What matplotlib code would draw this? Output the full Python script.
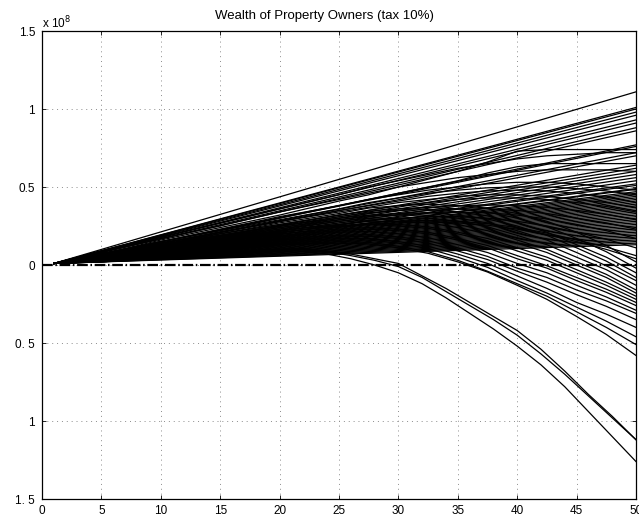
import matplotlib
matplotlib.use("Agg")
import matplotlib.pyplot as plt

plt.rcParams['font.family'] = ['Liberation Sans', 'DejaVu Sans']

# wealth in units of 1e8
# straight growers: start (year 1) and end (year 50) values
start_year = 1
end_year = 50
start_val = 0.01
straight_end = [1.11, 1.01, 1.00, 0.98, 0.96, 0.93, 0.91, 0.88, 0.86, 0.77,
                0.76, 0.72, 0.70, 0.64, 0.62, 0.60, 0.58, 0.56, 0.54, 0.52,
                0.51, 0.49, 0.485, 0.47, 0.46, 0.45, 0.44, 0.43, 0.42, 0.41,
                0.40, 0.39, 0.38, 0.37, 0.36, 0.35, 0.34, 0.33, 0.32, 0.31,
                0.30, 0.29, 0.28, 0.27, 0.26, 0.25, 0.24, 0.23, 0.22, 0.21,
                0.20, 0.19, 0.18, 0.17, 0.16, 0.15, 0.14, 0.13]

# owners whose wealth levels off or turns down, sampled at these years
knot_years = [1, 5, 10, 15, 20, 25, 27.5, 30, 32.5, 35, 37.5, 40, 42.5, 45, 47.5, 50]

plateau_paths = [
    [0.01, 0.07, 0.16, 0.24, 0.32, 0.41, 0.45, 0.50, 0.55, 0.60, 0.66, 0.73, 0.74, 0.74, 0.74, 0.74],
    [0.01, 0.07, 0.15, 0.22, 0.30, 0.38, 0.42, 0.46, 0.50, 0.54, 0.59, 0.63, 0.65, 0.65, 0.65, 0.65],
]

gentle_paths = [
    [0.01, 0.09, 0.18, 0.27, 0.36, 0.45, 0.50, 0.54, 0.58, 0.62, 0.65, 0.68, 0.70, 0.71, 0.72, 0.72],
    [0.01, 0.08, 0.17, 0.25, 0.34, 0.42, 0.46, 0.50, 0.53, 0.56, 0.58, 0.60, 0.61, 0.61, 0.61, 0.60],
    [0.01, 0.07, 0.15, 0.23, 0.31, 0.38, 0.42, 0.45, 0.48, 0.50, 0.52, 0.53, 0.53, 0.52, 0.50, 0.48],
    [0.01, 0.07, 0.15, 0.22, 0.29, 0.36, 0.40, 0.43, 0.46, 0.48, 0.495, 0.50, 0.50, 0.49, 0.475, 0.45],
    [0.01, 0.07, 0.14, 0.21, 0.28, 0.35, 0.38, 0.41, 0.44, 0.46, 0.475, 0.48, 0.475, 0.46, 0.435, 0.40],
    [0.01, 0.07, 0.14, 0.21, 0.28, 0.34, 0.37, 0.40, 0.42, 0.44, 0.45, 0.45, 0.44, 0.42, 0.40, 0.37],
    [0.01, 0.06, 0.13, 0.20, 0.26, 0.32, 0.35, 0.38, 0.40, 0.42, 0.43, 0.43, 0.42, 0.40, 0.375, 0.34],
    [0.01, 0.06, 0.13, 0.19, 0.25, 0.30, 0.33, 0.35, 0.37, 0.38, 0.385, 0.38, 0.37, 0.35, 0.325, 0.29],
    [0.01, 0.06, 0.12, 0.18, 0.24, 0.29, 0.31, 0.33, 0.35, 0.36, 0.36, 0.35, 0.33, 0.30, 0.27, 0.23],
    [0.01, 0.06, 0.12, 0.17, 0.23, 0.28, 0.30, 0.32, 0.335, 0.34, 0.335, 0.32, 0.295, 0.26, 0.22, 0.17],
    [0.01, 0.05, 0.11, 0.16, 0.22, 0.26, 0.285, 0.30, 0.31, 0.31, 0.30, 0.28, 0.25, 0.21, 0.165, 0.11],
    [0.01, 0.05, 0.11, 0.16, 0.21, 0.25, 0.27, 0.28, 0.285, 0.28, 0.265, 0.24, 0.205, 0.16, 0.115, 0.06],
    [0.01, 0.05, 0.10, 0.15, 0.20, 0.24, 0.26, 0.27, 0.275, 0.27, 0.255, 0.23, 0.195, 0.15, 0.10, 0.04],
]

falling_paths = [
    [0.01, 0.07, 0.14, 0.20, 0.27, 0.33, 0.365, 0.38, 0.39, 0.38, 0.365, 0.33, 0.28, 0.21, 0.125, 0.02],
    [0.01, 0.07, 0.13, 0.20, 0.26, 0.32, 0.345, 0.36, 0.37, 0.36, 0.34, 0.30, 0.245, 0.17, 0.085, -0.02],
    [0.01, 0.06, 0.13, 0.19, 0.25, 0.31, 0.335, 0.35, 0.355, 0.34, 0.315, 0.27, 0.21, 0.13, 0.05, -0.05],
    [0.01, 0.06, 0.13, 0.19, 0.25, 0.30, 0.32, 0.33, 0.335, 0.32, 0.295, 0.25, 0.19, 0.11, 0.025, -0.08],
    [0.01, 0.06, 0.12, 0.18, 0.24, 0.29, 0.315, 0.32, 0.32, 0.30, 0.27, 0.22, 0.16, 0.08, -0.005, -0.10],
    [0.01, 0.06, 0.12, 0.18, 0.23, 0.28, 0.30, 0.30, 0.30, 0.28, 0.245, 0.19, 0.13, 0.05, -0.03, -0.13],
    [0.01, 0.06, 0.12, 0.17, 0.22, 0.27, 0.29, 0.29, 0.285, 0.26, 0.22, 0.16, 0.10, 0.02, -0.06, -0.16],
    [0.01, 0.05, 0.11, 0.17, 0.22, 0.26, 0.28, 0.28, 0.27, 0.24, 0.20, 0.14, 0.08, 0.00, -0.08, -0.18],
    [0.01, 0.05, 0.11, 0.16, 0.21, 0.25, 0.265, 0.26, 0.245, 0.21, 0.17, 0.11, 0.05, -0.03, -0.11, -0.20],
    [0.01, 0.05, 0.11, 0.16, 0.21, 0.25, 0.26, 0.25, 0.235, 0.20, 0.155, 0.09, 0.03, -0.05, -0.13, -0.22],
    [0.01, 0.05, 0.10, 0.15, 0.20, 0.23, 0.24, 0.23, 0.21, 0.17, 0.125, 0.06, -0.005, -0.08, -0.155, -0.24],
    [0.01, 0.05, 0.10, 0.15, 0.19, 0.22, 0.23, 0.22, 0.20, 0.16, 0.11, 0.04, -0.02, -0.10, -0.175, -0.26],
    [0.01, 0.05, 0.10, 0.14, 0.18, 0.21, 0.215, 0.20, 0.175, 0.13, 0.08, 0.01, -0.05, -0.13, -0.205, -0.29],
    [0.01, 0.04, 0.09, 0.13, 0.17, 0.19, 0.195, 0.18, 0.155, 0.11, 0.055, -0.02, -0.08, -0.16, -0.23, -0.31],
    [0.01, 0.04, 0.09, 0.13, 0.16, 0.18, 0.185, 0.17, 0.14, 0.09, 0.035, -0.04, -0.11, -0.19, -0.265, -0.35],
    [0.01, 0.04, 0.08, 0.12, 0.15, 0.17, 0.17, 0.15, 0.12, 0.07, 0.01, -0.07, -0.15, -0.24, -0.315, -0.40],
    [0.01, 0.04, 0.08, 0.11, 0.14, 0.16, 0.16, 0.14, 0.105, 0.05, -0.015, -0.10, -0.18, -0.27, -0.36, -0.46],
    [0.01, 0.03, 0.07, 0.10, 0.13, 0.15, 0.145, 0.12, 0.085, 0.03, -0.04, -0.12, -0.20, -0.30, -0.40, -0.51],
    [0.01, 0.03, 0.07, 0.10, 0.13, 0.14, 0.135, 0.11, 0.075, 0.02, -0.045, -0.13, -0.22, -0.33, -0.445, -0.58],
]

# the three owners that go deep into debt
bank_years = [1, 5, 10, 15, 20, 22, 24, 26, 28, 30, 32, 34, 36, 38, 40, 42, 44, 46, 48, 50]
bankrupt_paths = [
    [0.01, 0.02, 0.05, 0.08, 0.10, 0.105, 0.09, 0.07, 0.04, 0.01, -0.07, -0.15, -0.24, -0.33, -0.42, -0.54, -0.68, -0.83, -0.97, -1.12],
    [0.01, 0.02, 0.05, 0.07, 0.10, 0.10, 0.085, 0.06, 0.03, -0.01, -0.08, -0.17, -0.26, -0.35, -0.45, -0.57, -0.70, -0.84, -0.98, -1.12],
    [0.01, 0.02, 0.04, 0.07, 0.09, 0.09, 0.07, 0.04, 0.00, -0.05, -0.12, -0.21, -0.31, -0.41, -0.52, -0.64, -0.78, -0.94, -1.10, -1.26],
]

yticks = [-1.5, -1.0, -0.5, 0.0, 0.5, 1.0, 1.5]
ytick_labels = ['1. 5', '1', '0. 5', '0', '0.5', '1', '1.5']
xticks = [0, 5, 10, 15, 20, 25, 30, 35, 40, 45, 50]
scale = 1e8


def main():
    fig = plt.figure(figsize=(6.39, 5.17), dpi=100)
    ax = fig.add_axes([42/639, 18/517, 594/639, 468/517])

    lw = 0.9
    for e in straight_end:
        ax.plot([start_year, end_year], [start_val*scale, e*scale], color='k', lw=lw)
    for group in (plateau_paths, gentle_paths, falling_paths):
        for p in group:
            ax.plot(knot_years, [v*scale for v in p], color='k', lw=lw)
    for p in bankrupt_paths:
        ax.plot(bank_years, [v*scale for v in p], color='k', lw=lw)

    # zero line
    ax.plot([0, 50], [0, 0], color='k', lw=1.6, ls=(0, (4.8, 1.2, 0.7, 1.2)))

    ax.set_xlim(0, 50)
    ax.set_ylim(-1.5*scale, 1.5*scale)
    ax.set_xticks(xticks)
    ax.set_xticklabels([str(t) for t in xticks])
    ax.set_yticks([t*scale for t in yticks])
    ax.set_yticklabels(ytick_labels)
    ax.tick_params(direction='in', top=True, right=True, length=3, width=0.6,
                   labelsize=8.5, colors='k')
    ax.tick_params(axis='y', pad=5)
    ax.tick_params(axis='x', pad=4)
    for s in ax.spines.values():
        s.set_linewidth(0.9)
    ax.grid(True, color='0.55', lw=0.7, ls=(0, (1, 4)))
    ax.set_axisbelow(True)

    ax.set_title('Wealth of Property Owners (tax 10%)', fontsize=9.5, pad=9, x=0.476)
    ax.text(0, 1, r'x 10$^{8}$', transform=ax.transAxes, ha='left', va='bottom',
            fontsize=8.5)

    fig.savefig('out.png', dpi=100)


if __name__ == "__main__":
    main()
